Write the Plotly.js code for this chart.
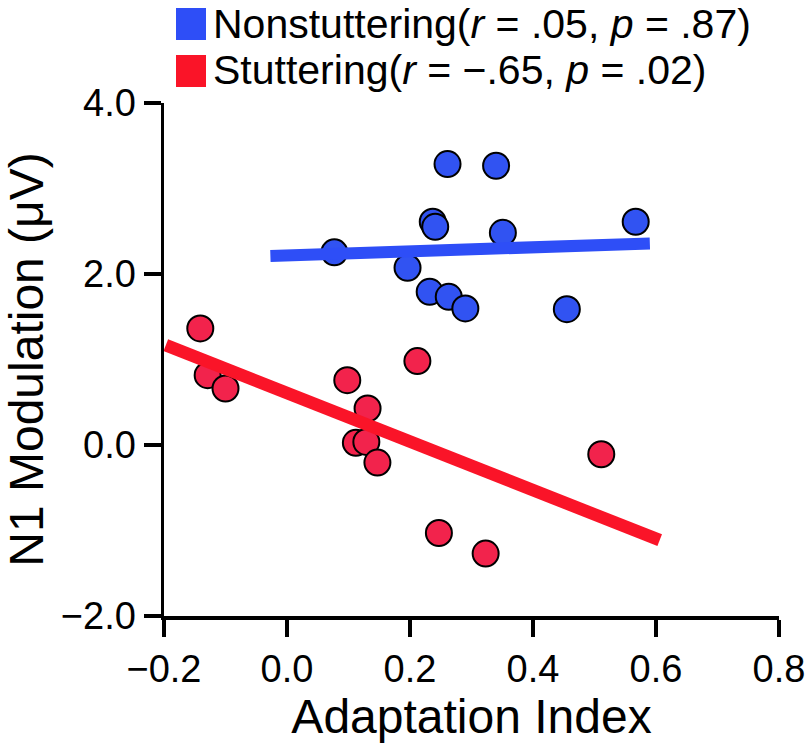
<!DOCTYPE html>
<html>
<head>
<meta charset="utf-8">
<script src="https://cdn.plot.ly/plotly-3.0.1.min.js"></script>
<style>html,body{margin:0;padding:0;background:#fff;}#chart{width:812px;height:745px;}</style>
</head>
<body>
<div id="chart"></div>
<script>
// ---- data ----
const nonstutX = [0.077, 0.261, 0.340, 0.237, 0.241, 0.351, 0.567, 0.196, 0.232, 0.263, 0.290, 0.455];
const nonstutY = [2.253, 3.286, 3.266, 2.611, 2.552, 2.482, 2.611, 2.073, 1.792, 1.733, 1.597, 1.589];
const stutX = [-0.141, -0.129, -0.100, 0.098, 0.131, 0.112, 0.129, 0.147, 0.212, 0.247, 0.323, 0.511];
const stutY = [1.363, 0.817, 0.661, 0.758, 0.427, 0.025, 0.036, -0.205, 0.981, -1.029, -1.270, -0.108];
const nonstutFitX = [-0.027, 0.590];
const nonstutFitY = [2.21, 2.358];
const stutFitX = [-0.197, 0.606];
const stutFitY = [1.168, -1.113];
const xTickVals = [-0.2, 0.0, 0.2, 0.4, 0.6, 0.8];
const xTickText = ['\u22120.2', '0.0', '0.2', '0.4', '0.6', '0.8'];
const yTickVals = [-2, 0, 2, 4];
const yTickText = ['\u22122.0', '0.0', '2.0', '4.0'];
const legendLabels = ['Nonstuttering(<i>r</i> = .05, <i>p</i> = .87)', 'Stuttering(<i>r</i> = \u2212.65, <i>p</i> = .02)'];

const FONT = 'Liberation Sans, Arial, Helvetica, sans-serif';
const blueFill = '#3153F2', blueLine = '#2E4EF7';
const redFill = '#F2234C', redLine = '#FA1428';

const W = 812, H = 745;
const mL = 164, mR = 33, mT = 103, mB = 129;
const pw = W - mL - mR, ph = H - mT - mB;
const px = v => (v - mL) / pw;
const py = v => (H - mB - v) / ph;

const traces = [
  {x: nonstutX, y: nonstutY, type: 'scatter', mode: 'markers', cliponaxis: false,
   marker: {size: 26, color: blueFill, line: {color: '#000', width: 2}}, showlegend: false},
  {x: stutX, y: stutY, type: 'scatter', mode: 'markers', cliponaxis: false,
   marker: {size: 26, color: redFill, line: {color: '#000', width: 2}}, showlegend: false},
  {x: nonstutFitX, y: nonstutFitY, type: 'scatter', mode: 'lines',
   line: {color: blueLine, width: 12}, showlegend: false},
  {x: stutFitX, y: stutFitY, type: 'scatter', mode: 'lines',
   line: {color: redLine, width: 12.5}, showlegend: false}
];

const axisCommon = {
  showgrid: false, zeroline: false, showline: true, linecolor: '#000', linewidth: 3.5,
  ticks: 'outside', ticklen: 17, tickwidth: 3.5, tickcolor: '#000',
  tickfont: {family: FONT, size: 38, color: '#000'}, tickmode: 'array', fixedrange: true
};

const layout = {
  width: W, height: H,
  margin: {l: mL, r: mR, t: mT, b: mB, pad: 0},
  paper_bgcolor: '#fff', plot_bgcolor: '#fff',
  font: {family: FONT, color: '#000'},
  xaxis: Object.assign({}, axisCommon, {
    range: [-0.2, 0.8], tickvals: xTickVals, ticktext: xTickText,
    title: {text: 'Adaptation Index', font: {family: FONT, size: 48, color: '#000'}, standoff: 0}
  }),
  yaxis: Object.assign({}, axisCommon, {
    range: [-2, 4], tickvals: yTickVals, ticktext: yTickText,
    title: {text: 'N1 Modulation (\u03bcV)', font: {family: FONT, size: 48, color: '#000'}, standoff: 14}
  }),
  shapes: [
    {type: 'rect', xref: 'paper', yref: 'paper', x0: px(176), x1: px(206), y0: py(40), y1: py(8),
     fillcolor: blueLine, line: {width: 0}},
    {type: 'rect', xref: 'paper', yref: 'paper', x0: px(176), x1: px(206), y0: py(87), y1: py(55),
     fillcolor: redLine, line: {width: 0}}
  ],
  annotations: [
    {text: legendLabels[0], xref: 'paper', yref: 'paper', x: px(211), y: py(24), xanchor: 'left', yanchor: 'middle',
     showarrow: false, font: {family: FONT, size: 41, color: '#000'}},
    {text: legendLabels[1], xref: 'paper', yref: 'paper', x: px(211), y: py(70), xanchor: 'left', yanchor: 'middle',
     showarrow: false, font: {family: FONT, size: 41, color: '#000'}}
  ],
  showlegend: false
};

Plotly.newPlot('chart', traces, layout, {displayModeBar: false, staticPlot: true});
</script>
</body>
</html>
